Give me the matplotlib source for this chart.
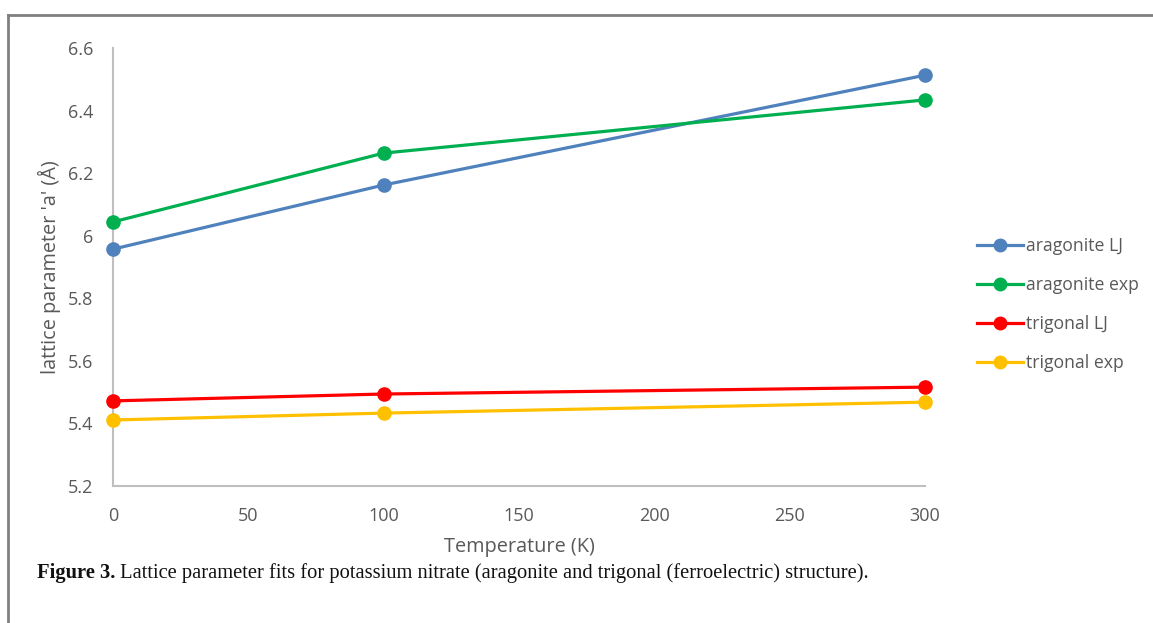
import matplotlib
matplotlib.use("Agg")
import matplotlib.pyplot as plt
from matplotlib.lines import Line2D

# данные
temps = [0, 100, 300]
arag_lj = [5.957, 6.162, 6.513]
arag_exp = [6.044, 6.264, 6.434]
trig_lj = [5.472, 5.494, 5.516]
trig_exp = [5.411, 5.433, 5.468]

series = [
    ("aragonite LJ", arag_lj, "#4F81BD"),
    ("aragonite exp", arag_exp, "#00B050"),
    ("trigonal LJ", trig_lj, "#FF0000"),
    ("trigonal exp", trig_exp, "#FFC000"),
]

x_ticks = [0, 50, 100, 150, 200, 250, 300]
y_ticks = [5.2, 5.4, 5.6, 5.8, 6.0, 6.2, 6.4, 6.6]
y_labels = ["5.2", "5.4", "5.6", "5.8", "6", "6.2", "6.4", "6.6"]

caption_bold = "Figure 3."
caption_rest = " Lattice parameter fits for potassium nitrate (aragonite and trigonal (ferroelectric) structure)."

txt = "#595959"
axc = "#BFBFBF"
font = "Open Sans"

fig = plt.figure(figsize=(11.53, 6.23), dpi=100)
ax = fig.add_axes([0.098, 0.2199, 0.7043, 0.7031])

for name, vals, col in series:
    ax.plot(temps, vals, color=col, lw=2.3, marker="o", ms=9.5, label=name,
            solid_capstyle="round", zorder=3, clip_on=False)

ax.set_xlim(0, 300)
ax.set_ylim(5.2, 6.6)
ax.set_xticks(x_ticks)
ax.set_yticks(y_ticks)
ax.set_yticklabels(y_labels)
for s in ("top", "right"):
    ax.spines[s].set_visible(False)
for s in ("left", "bottom"):
    ax.spines[s].set_color(axc)
    ax.spines[s].set_linewidth(1.5)
ax.tick_params(length=0, labelsize=13, labelcolor=txt)
ax.tick_params(axis="y", pad=14)
ax.tick_params(axis="x", pad=15)
for lab in ax.get_xticklabels() + ax.get_yticklabels():
    lab.set_family(font)

ax.set_xlabel("Temperature (K)", fontsize=14.3, color=txt, family=font, labelpad=9)
ax.set_ylabel("lattice parameter 'a' (Å)", fontsize=14.3, color=txt, family=font, labelpad=5)

handles = [Line2D([], [], color=c, lw=2.3, marker="o", ms=9) for _, _, c in series]
fig.legend(handles, [n for n, _, _ in series], loc="center left",
           bbox_to_anchor=(0.834, 0.511), frameon=False, handlelength=2.6,
           handletextpad=0.15, labelspacing=1.2,
           prop={"family": font, "size": 12.7}, labelcolor=txt)

# рамка вокруг графика (верх и лево)
fig.add_artist(Line2D([0.007, 1.0], [0.976, 0.976], color="#808080", lw=2,
                      transform=fig.transFigure))
fig.add_artist(Line2D([0.007, 0.007], [0.0, 0.976], color="#808080", lw=2,
                      transform=fig.transFigure))

t = fig.text(0.032, 0.072, caption_bold, fontsize=14.8, fontweight="bold",
             family="Liberation Serif", color="#111111", va="baseline")
fig.canvas.draw()
bb = t.get_window_extent()
fig.text(bb.x1 / fig.bbox.width, 0.072, caption_rest, fontsize=14.8,
         family="Liberation Serif", color="#111111", va="baseline")

fig.savefig("out.png", dpi=100)
